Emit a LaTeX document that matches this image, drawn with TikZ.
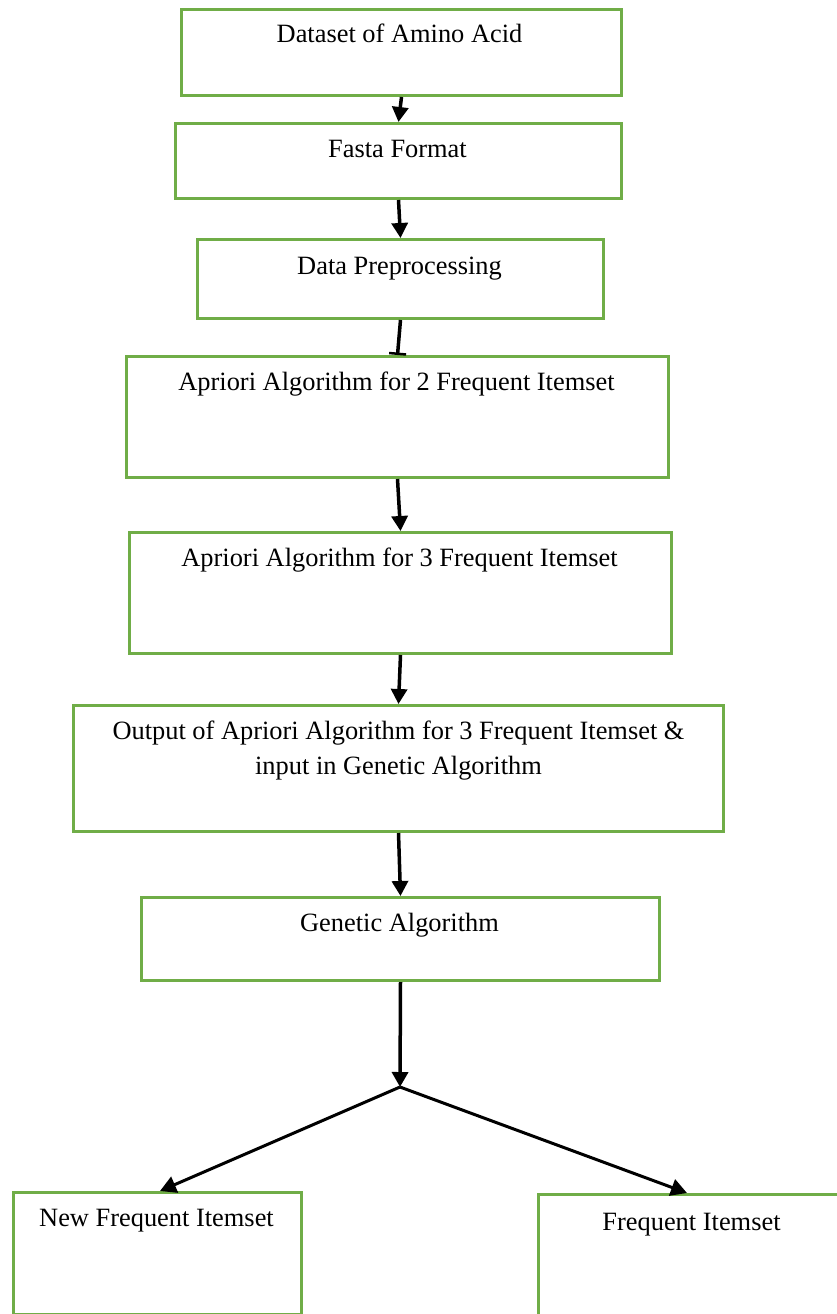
\documentclass[tikz,border=0pt]{standalone}
\usepackage{fontspec}
\setmainfont{Liberation Serif}
\usetikzlibrary{arrows.meta,calc}
\definecolor{boxgreen}{HTML}{70AD47}
\begin{document}
\begin{tikzpicture}[x=1pt,y=-1pt,
  box/.style={draw=boxgreen, line width=3pt, rectangle, inner sep=0pt, anchor=north west},
  lbl/.style={font=\fontsize{26.4}{35}\selectfont, anchor=base, inner sep=0pt},
  arr/.style={line width=3.5pt, -{Triangle[length=15pt,width=16pt]}},
  bararr/.style={line width=3.5pt, -{Bar[width=17pt,line width=2.5pt]}},
  diag/.style={line width=3pt, -{Triangle[length=16pt,width=17pt]}}]
\useasboundingbox (0,0) rectangle (836,1314);
% boxes
\node[box, minimum width=440pt, minimum height=86pt]  (b1) at (180,8) {};
\node[box, minimum width=446pt, minimum height=75pt]  (b2) at (174,122) {};
\node[box, minimum width=406pt, minimum height=79pt]  (b3) at (196,238) {};
\node[box, minimum width=542pt, minimum height=121pt] (b4) at (125,355) {};
\node[box, minimum width=542pt, minimum height=121pt] (b5) at (128,531) {};
\node[box, minimum width=650pt, minimum height=126pt] (b6) at (72,704) {};
\node[box, minimum width=518pt, minimum height=83pt]  (b7) at (140,896) {};
\node[box, minimum width=288pt, minimum height=122pt] (b8) at (12,1191) {};
\node[box, minimum width=320pt, minimum height=150pt] (b9) at (537,1193) {};
% texts
\node[lbl] (t1) at ($(b1.north)+(-2,35)$) {Dataset of Amino Acid};
\node[lbl] (t2) at ($(b2.north)+(-1,35)$) {Fasta Format};
\node[lbl] (t3) at ($(b3.north)+(-1,36)$) {Data Preprocessing};
\node[lbl] (t4) at ($(b4.north)+(-1,35)$) {Apriori Algorithm for 2 Frequent Itemset};
\node[lbl] (t5) at ($(b5.north)+(-1,35)$) {Apriori Algorithm for 3 Frequent Itemset};
\node[lbl] (t6a) at ($(b6.north)+(0,35)$) {Output of Apriori Algorithm for 3 Frequent Itemset \&};
\node[lbl] (t6b) at ($(b6.north)+(0,70)$) {input in Genetic Algorithm};
\node[lbl] (t7) at ($(b7.north)+(-1,35)$) {Genetic Algorithm};
\node[lbl] (t8) at ($(b8.north)+(-1,35)$) {New Frequent Itemset};
\node[lbl] (t9) at ($(b9.north)+(-7,37)$) {Frequent Itemset};
% connectors
\coordinate (j) at (400,1087);
\draw[arr] (b1.south) -- (b2.north);
\draw[arr] (b2.south) -- (b3.north);
\draw[bararr] (b3.south) -- (b4.north);
\draw[arr] (b4.south) -- (b5.north);
\draw[arr] (b5.south) -- (b6.north);
\draw[arr] (b6.south) -- (b7.north);
\draw[arr] (b7.south) -- (j);
\draw[diag] (j) -- ($(b8.north west)+(148,0)$);
\draw[diag] (j) -- ($(b9.north west)+(150,0)$);
\end{tikzpicture}
\end{document}
